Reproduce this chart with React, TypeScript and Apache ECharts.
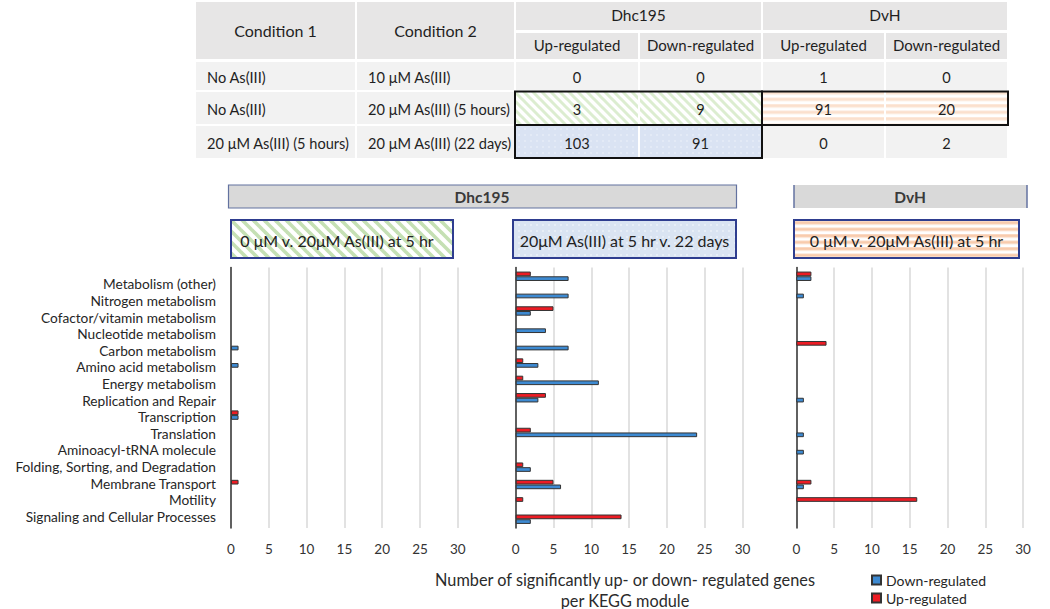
import React, { useEffect, useRef } from "react";
import * as echarts from "echarts";

const FONT = 'Lato, "Noto Sans", sans-serif';

// ---------- data ----------
const categories = [
  "Metabolism (other)",
  "Nitrogen metabolism",
  "Cofactor/vitamin metabolism",
  "Nucleotide metabolism",
  "Carbon metabolism",
  "Amino acid metabolism",
  "Energy metabolism",
  "Replication and Repair",
  "Transcription",
  "Translation",
  "Aminoacyl-tRNA molecule",
  "Folding, Sorting, and Degradation",
  "Membrane Transport",
  "Motility",
  "Signaling and Cellular Processes",
];

const dhc5hUp = [0, 0, 0, 0, 0, 0, 0, 0, 1, 0, 0, 0, 1, 0, 0];
const dhc5hDown = [0, 0, 0, 0, 1, 1, 0, 0, 1, 0, 0, 0, 0, 0, 0];
const dhc22dUp = [2, 0, 5, 0, 0, 1, 1, 4, 0, 2, 0, 1, 5, 1, 14];
const dhc22dDown = [7, 7, 2, 4, 7, 3, 11, 3, 0, 24, 0, 2, 6, 0, 2];
const dvhUp = [2, 0, 0, 0, 4, 0, 0, 0, 0, 0, 0, 0, 2, 16, 0];
const dvhDown = [2, 1, 0, 0, 0, 0, 0, 1, 0, 1, 1, 0, 1, 0, 0];

const xMin = 0;
const xMax = 30;
const xInterval = 5;

const panelTitles = [
  "0 μM v. 20μM As(III) at 5 hr",
  "20μM As(III) at 5 hr v. 22 days",
  "0 μM v. 20μM As(III) at 5 hr",
];
const organismTitles = ["Dhc195", "DvH"];

const tableCond1 = ["No As(III)", "No As(III)", "20 μM As(III) (5 hours)"];
const tableCond2 = ["10 μM As(III)", "20 μM As(III) (5 hours)", "20 μM As(III) (22 days)"];
const dhcUpCounts = [0, 3, 103];
const dhcDownCounts = [0, 9, 91];
const dvhUpCounts = [1, 91, 0];
const dvhDownCounts = [0, 20, 2];

const UP_COLOR = "#ed1c24";
const DOWN_COLOR = "#3d8ad2";

// ---------- patterns ----------
function diagPattern(fg: string, bg: string, P: number, w: number) {
  const c = document.createElement("canvas");
  c.width = P;
  c.height = P;
  const ctx = c.getContext("2d")!;
  ctx.fillStyle = bg;
  ctx.fillRect(0, 0, P, P);
  ctx.strokeStyle = fg;
  ctx.lineWidth = w;
  for (const off of [-P, 0, P]) {
    ctx.beginPath();
    ctx.moveTo(off - 2, -2);
    ctx.lineTo(off + P + 2, P + 2);
    ctx.stroke();
  }
  return { image: c.toDataURL(), repeat: "repeat", imageWidth: P, imageHeight: P };
}
function dotPattern(fg: string, bg: string, P: number, r: number) {
  const c = document.createElement("canvas");
  c.width = P;
  c.height = P;
  const ctx = c.getContext("2d")!;
  ctx.fillStyle = bg;
  ctx.fillRect(0, 0, P, P);
  ctx.fillStyle = fg;
  ctx.beginPath();
  ctx.arc(P / 2, P / 2, r, 0, Math.PI * 2);
  ctx.fill();
  return { image: c.toDataURL(), repeat: "repeat", imageWidth: P, imageHeight: P };
}
function hPattern(fg: string, bg: string, P: number, w: number) {
  const c = document.createElement("canvas");
  c.width = 4;
  c.height = P;
  const ctx = c.getContext("2d")!;
  ctx.fillStyle = bg;
  ctx.fillRect(0, 0, 4, P);
  ctx.fillStyle = fg;
  ctx.fillRect(0, 0, 4, w);
  return { image: c.toDataURL(), repeat: "repeat", imageWidth: 4, imageHeight: P };
}

function nz(arr: number[]) {
  return arr.map((v) => (v === 0 ? "-" : v));
}

export default function App() {
  const ref = useRef<HTMLDivElement>(null);

  useEffect(() => {
    if (!ref.current) return;
    const chart = echarts.init(ref.current, undefined, { renderer: "svg" });

    const greenBox = diagPattern("#c5e0b4", "#ffffff", 11, 3.6);
    const greenCell = diagPattern("#dcedd0", "#ffffff", 9, 3);
    const blueBox = dotPattern("#ffffff", "#dae4f2", 6, 0.7);
    const blueCell = dotPattern("#f4f7fb", "#dae3f3", 6, 0.7);
    const orangeBox = hPattern("#f8cbad", "#ffffff", 6.5, 3.2);
    const orangeCell = hPattern("#fbe0cd", "#ffffff", 6.5, 3.2);

    const els: any[] = [];
    const txt = (x: number, y: number, text: string, size: number, opts: any = {}) => ({
      type: "text",
      x,
      y,
      silent: true,
      style: {
        text,
        fontSize: size,
        fontFamily: FONT,
        fill: "#1f1f1f",
        align: "center",
        verticalAlign: "middle",
        ...opts,
      },
    });
    const rect = (x: number, y: number, w: number, h: number, style: any) => ({
      type: "rect",
      shape: { x, y, width: w, height: h },
      silent: true,
      style,
    });

    // ----- table -----
    const cols = [
      [196, 355],
      [357, 514],
      [516, 638],
      [640, 761],
      [763, 884],
      [886, 1007],
    ];
    const HEAD = "#e7e6e6";
    const ROW = "#f2f2f2";
    els.push(rect(cols[0][0], 2, cols[0][1] - cols[0][0], 57, { fill: HEAD }));
    els.push(rect(cols[1][0], 2, cols[1][1] - cols[1][0], 57, { fill: HEAD }));
    els.push(rect(cols[2][0], 2, cols[3][1] - cols[2][0], 28, { fill: HEAD }));
    els.push(rect(cols[4][0], 2, cols[5][1] - cols[4][0], 28, { fill: HEAD }));
    for (let i = 2; i < 6; i++) {
      els.push(rect(cols[i][0], 33, cols[i][1] - cols[i][0], 26, { fill: HEAD }));
    }
    els.push(txt((cols[0][0] + cols[0][1]) / 2, 30, "Condition 1", 16));
    els.push(txt((cols[1][0] + cols[1][1]) / 2, 30, "Condition 2", 16));
    els.push(txt((cols[2][0] + cols[3][1]) / 2, 15, organismTitles[0], 15.5));
    els.push(txt((cols[4][0] + cols[5][1]) / 2, 15, organismTitles[1], 15.5));
    const subHeads = ["Up-regulated", "Down-regulated", "Up-regulated", "Down-regulated"];
    subHeads.forEach((s, i) => {
      els.push(txt((cols[i + 2][0] + cols[i + 2][1]) / 2, 45, s, 15));
    });

    const rowsY = [
      [62, 90],
      [92, 124],
      [126, 158],
    ];
    const counts = [dhcUpCounts, dhcDownCounts, dvhUpCounts, dvhDownCounts];
    rowsY.forEach(([y0, y1], r) => {
      for (let c = 0; c < 6; c++) {
        let fill: any = ROW;
        if (r === 1 && (c === 2 || c === 3)) fill = greenCell;
        if (r === 1 && (c === 4 || c === 5)) fill = orangeCell;
        if (r === 2 && (c === 2 || c === 3)) fill = blueCell;
        els.push(rect(cols[c][0], y0, cols[c][1] - cols[c][0], y1 - y0, { fill }));
      }
      const cy = (y0 + y1) / 2 + 1;
      els.push(txt(cols[0][0] + 11, cy, tableCond1[r], 14.6, { align: "left" }));
      els.push(txt(cols[1][0] + 11, cy, tableCond2[r], 14.6, { align: "left" }));
      counts.forEach((arr, k) => {
        els.push(txt((cols[k + 2][0] + cols[k + 2][1]) / 2, cy, String(arr[r]), 14.6));
      });
    });
    const border = { fill: "none", stroke: "#111111", lineWidth: 2 };
    els.push(rect(515, 91.5, 247, 33.5, border));
    els.push(rect(762, 91.5, 246, 33.5, border));
    els.push(rect(515, 125, 247, 33, border));

    // ----- organism header bars -----
    els.push(rect(228.5, 185, 508, 23, { fill: "#d9d9d9", stroke: "#6372a0", lineWidth: 1.2 }));
    els.push(txt(482, 197, organismTitles[0], 15.5, { fontWeight: "bold", fill: "#3a3a3a" }));
    els.push(rect(794, 185, 233, 23, { fill: "#d9d9d9" }));
    els.push({
      type: "line",
      silent: true,
      shape: { x1: 794, y1: 185, x2: 794, y2: 208 },
      style: { stroke: "#6372a0", lineWidth: 1.5 },
    });
    els.push({
      type: "line",
      silent: true,
      shape: { x1: 1027, y1: 185, x2: 1027, y2: 208 },
      style: { stroke: "#6372a0", lineWidth: 1.5 },
    });
    els.push(txt(910, 197, organismTitles[1], 15.5, { fontWeight: "bold", fill: "#3a3a3a" }));

    // ----- panel title boxes -----
    const boxes = [
      { x: 231, w: 222, fill: greenBox },
      { x: 513, w: 223, fill: blueBox },
      { x: 794, w: 225, fill: orangeBox },
    ];
    boxes.forEach((b, i) => {
      els.push(rect(b.x, 220, b.w, 38, { fill: b.fill, stroke: "#2e3d8f", lineWidth: 2 }));
      els.push(txt(b.x + b.w / 2 - (i === 0 ? 5 : 0), 240, panelTitles[i], 16, { fill: "#222" }));
    });

    // ----- axis title -----
    els.push(txt(625, 579, "Number of significantly up- or down- regulated genes", 16.3, { fill: "#2b2b2b" }));
    els.push(txt(625, 600, "per KEGG module", 16.3, { fill: "#2b2b2b" }));

    // ----- grids -----
    const gridLefts = [231, 515.7, 796.3];
    const gridTop = 267.6;
    const gridH = 260.3;
    const gridW = 226.8;
    const grids: any[] = gridLefts.map((l) => ({ left: l, top: gridTop, width: gridW, height: gridH }));
    grids.push({ left: 220, top: 275.5, width: 1, height: 249 });

    const xAxes: any[] = gridLefts.map((_, i) => ({
      gridIndex: i,
      type: "value",
      min: xMin,
      max: xMax,
      interval: xInterval,
      axisLine: { show: false },
      axisTick: { show: false },
      axisLabel: { color: "#333", fontSize: 13.5, fontFamily: FONT, margin: 14 },
      splitLine: { show: true, lineStyle: { color: "#d9d9d9", width: 1.5 } },
    }));
    xAxes.push({ gridIndex: 3, type: "value", show: false });

    const yAxes: any[] = gridLefts.map((_, i) => ({
      gridIndex: i,
      type: "category",
      data: categories,
      inverse: true,
      axisLabel: { show: false },
      axisTick: { show: false },
      axisLine: { show: true, lineStyle: { color: "#404040", width: 1.6 } },
      splitLine: { show: false },
    }));
    yAxes.push({
      gridIndex: 3,
      type: "category",
      data: categories,
      inverse: true,
      axisLine: { show: false },
      axisTick: { show: false },
      axisLabel: { color: "#262626", fontSize: 13.7, fontFamily: FONT, margin: 4, interval: 0 },
    });

    const panelData = [
      [dhc5hUp, dhc5hDown],
      [dhc22dUp, dhc22dDown],
      [dvhUp, dvhDown],
    ];
    const series: any[] = [];
    panelData.forEach(([up, down], i) => {
      series.push({
        name: "Up-regulated",
        type: "bar",
        xAxisIndex: i,
        yAxisIndex: i,
        data: nz(up),
        barWidth: 4.7,
        barGap: "0%",
        itemStyle: { color: UP_COLOR, borderColor: "#333", borderWidth: 1 },
      });
      series.push({
        name: "Down-regulated",
        type: "bar",
        xAxisIndex: i,
        yAxisIndex: i,
        data: nz(down),
        barWidth: 4.7,
        barGap: "0%",
        itemStyle: { color: DOWN_COLOR, borderColor: "#333", borderWidth: 1 },
      });
    });

    const legendBase = {
      orient: "vertical",
      left: 871,
      itemWidth: 9,
      itemHeight: 9,
      padding: 0,
      icon: "rect",
      selectedMode: false,
      textStyle: { color: "#262626", fontSize: 14, fontFamily: FONT },
    };

    chart.setOption({
      animation: false,
      backgroundColor: "#ffffff",
      textStyle: { fontFamily: FONT },
      grid: grids,
      xAxis: xAxes,
      yAxis: yAxes,
      series,
      legend: [
        { ...legendBase, data: ["Down-regulated"], top: 573 },
        { ...legendBase, data: ["Up-regulated"], top: 591 },
      ],
      graphic: { elements: els },
    });

    return () => chart.dispose();
  }, []);

  return (
    <div
      ref={ref}
      style={{ position: "fixed", left: 0, top: 0, width: 1050, height: 609, background: "#fff" }}
    />
  );
}
